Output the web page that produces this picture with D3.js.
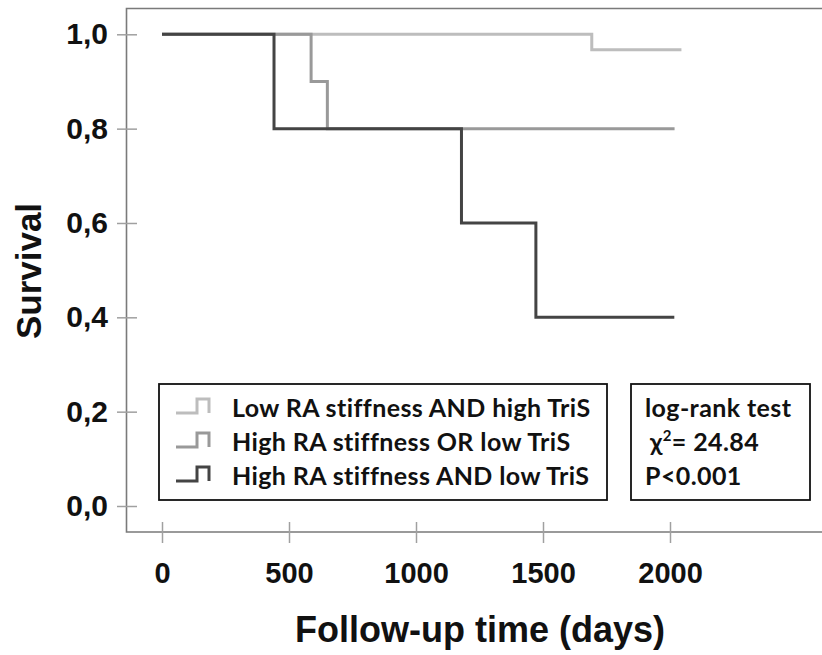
<!DOCTYPE html>
<html>
<head>
<meta charset="utf-8">
<script src="https://cdn.jsdelivr.net/npm/d3@7"></script>
<style>
  body { margin: 0; background: #fff; }
  svg { display: block; }
</style>
</head>
<body>
<svg id="chart" width="822" height="655"></svg>
<script>
// group names, in legend order
const groups = ["Low RA stiffness AND high TriS", "High RA stiffness OR low TriS", "High RA stiffness AND low TriS"];
// step curves: time (days) and survival at each step
const lowLowTimes = [0, 1692, 2045];
const lowLowSurv = [1, 0.967, 0.967];
const orTimes = [0, 587, 651, 2018];
const orSurv = [1, 0.9, 0.8, 0.8];
const highLowTimes = [0, 441, 1179, 1472, 2017];
const highLowSurv = [1, 0.8, 0.6, 0.4, 0.4];
const xTicks = [0, 500, 1000, 1500, 2000];
const yTicks = [0, 0.2, 0.4, 0.6, 0.8, 1.0];
const statLines = ["log-rank test", "χ²= 24.84", "P<0.001"];

const colors = ["#bdbdbd", "#999999", "#444444"];
const series = [
  { name: groups[0], t: lowLowTimes, s: lowLowSurv, color: colors[0] },
  { name: groups[1], t: orTimes, s: orSurv, color: colors[1] },
  { name: groups[2], t: highLowTimes, s: highLowSurv, color: colors[2] }
];

const svg = d3.select("#chart");
const x = d3.scaleLinear().domain([0, 2500]).range([162, 797]);
const y = d3.scaleLinear().domain([0, 1]).range([506, 34.3]);

const axisFont = "'Liberation Sans', Arial, sans-serif";
const boxFont = "Lato, 'Open Sans', sans-serif";

// frame (left / top / bottom; right side lies outside the picture)
svg.append("path")
  .attr("d", "M826,8.5H126.5V532H826")
  .attr("fill", "none")
  .attr("stroke", "#7a7a7a")
  .attr("stroke-width", 1.6);

// y axis
const yAxis = svg.append("g")
  .attr("transform", "translate(137,0)")
  .call(d3.axisLeft(y).tickValues(yTicks).tickSize(20).tickPadding(9)
    .tickFormat(d => d3.format(".1f")(d).replace(".", ",")));
yAxis.select(".domain").remove();
yAxis.selectAll("line").attr("stroke", "#a0a0a0").attr("stroke-width", 1.5);
yAxis.selectAll("text")
  .attr("font-family", axisFont)
  .attr("font-weight", "bold")
  .attr("font-size", 30)
  .attr("fill", "#111");

// x axis
const xAxis = svg.append("g")
  .attr("transform", "translate(0,522)")
  .call(d3.axisBottom(x).tickValues(xTicks).tickSize(21).tickPadding(19)
    .tickFormat(d3.format("d")));
xAxis.select(".domain").remove();
xAxis.selectAll("line").attr("stroke", "#a0a0a0").attr("stroke-width", 1.5);
xAxis.selectAll("text")
  .attr("font-family", axisFont)
  .attr("font-weight", "bold")
  .attr("font-size", 29)
  .attr("fill", "#111");

// axis titles
svg.append("text")
  .attr("transform", "translate(41,271) rotate(-90)")
  .attr("text-anchor", "middle")
  .attr("font-family", axisFont)
  .attr("font-weight", "bold")
  .attr("font-size", 35)
  .attr("fill", "#111")
  .text("Survival");

svg.append("text")
  .attr("x", 480)
  .attr("y", 642)
  .attr("text-anchor", "middle")
  .attr("font-family", axisFont)
  .attr("font-weight", "bold")
  .attr("font-size", 36)
  .attr("fill", "#111")
  .text("Follow-up time (days)");

// survival curves
const line = d3.line()
  .x(d => x(d[0]))
  .y(d => y(d[1]))
  .curve(d3.curveStepAfter);

svg.selectAll(".km")
  .data(series)
  .enter()
  .append("path")
  .attr("class", "km")
  .attr("d", d => line(d.t.map((t, i) => [t, d.s[i]])))
  .attr("fill", "none")
  .attr("stroke", d => d.color)
  .attr("stroke-width", 3);

// legend box
const legend = svg.append("g");
legend.append("rect")
  .attr("x", 159).attr("y", 384)
  .attr("width", 448).attr("height", 116)
  .attr("fill", "#fff").attr("stroke", "#111").attr("stroke-width", 1.8);

const rowBase = [417, 451, 485];
series.forEach((d, i) => {
  const b = rowBase[i];
  legend.append("path")
    .attr("d", `M176,${b - 4}H197V${b - 18}H209V${b - 4}`)
    .attr("fill", "none")
    .attr("stroke", d.color)
    .attr("stroke-width", 3);
  legend.append("text")
    .attr("x", 232).attr("y", b)
    .attr("font-family", boxFont)
    .attr("font-weight", "bold")
    .attr("font-size", 25)
    .attr("letter-spacing", 0.4)
    .attr("fill", "#111")
    .text(d.name);
});

// stats box
const stats = svg.append("g");
stats.append("rect")
  .attr("x", 631).attr("y", 384)
  .attr("width", 179).attr("height", 116)
  .attr("fill", "#fff").attr("stroke", "#111").attr("stroke-width", 1.8);

statLines.forEach((s, i) => {
  const t = stats.append("text")
    .attr("x", i === 1 ? 650 : 645).attr("y", rowBase[i])
    .attr("font-family", boxFont)
    .attr("font-weight", "bold")
    .attr("font-size", 25)
    .attr("letter-spacing", 0.4)
    .attr("fill", "#111");
  if (i === 1) {
    t.append("tspan").text("χ");
    t.append("tspan").attr("font-size", 15).attr("dy", -10).text("2");
    t.append("tspan").attr("dy", 10).text("= 24.84");
  } else {
    t.text(s);
  }
});
</script>
</body>
</html>
